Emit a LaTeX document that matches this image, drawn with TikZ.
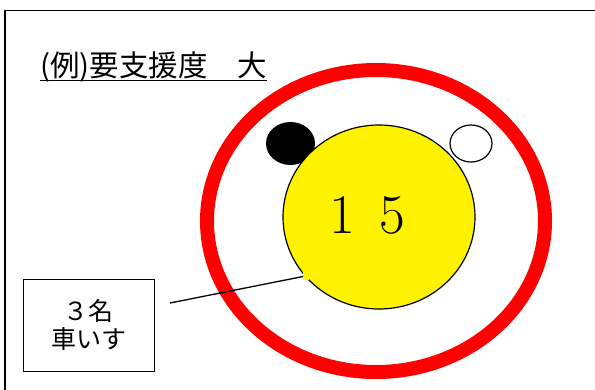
\documentclass[tikz,border=0pt]{standalone}
\usepackage{fontspec}
\newfontfamily\jpfont{Noto Sans CJK JP}
\begin{document}
\begin{tikzpicture}[x=1pt,y=-1pt,
  frameline/.style={line width=1.5pt,black},
  ringstyle/.style={draw=red,line width=14pt},
  smallmark/.style={line width=1.2pt},
  labelbox/.style={draw=black,line width=1pt,minimum width=131pt,minimum height=92pt,
     inner sep=0pt,align=center,font=\jpfont\fontsize{25}{28}\selectfont},
  titletext/.style={inner sep=0pt,anchor=base west,font=\jpfont\fontsize{29.5}{30}\selectfont},
  bignum/.style={inner sep=0pt,anchor=base west,font=\fontsize{56}{56}\selectfont},
  connector/.style={line width=1.3pt,black}]
\useasboundingbox (0,0) rectangle (595,389);
\fill[white] (0,0) rectangle (595,389);
% frame (left and top edges visible)
\coordinate (fbl) at (5,392);
\coordinate (ftl) at (5,10.5);
\coordinate (ftr) at (598,10.5);
\draw[frameline] (fbl) -- (ftl) -- (ftr);
% title
\node[titletext] (title) at (40,76) {(例)要支援度　大};
\draw[line width=1.5pt] ([yshift=-4.5pt]title.base west) -- ([yshift=-4.5pt]title.base east);
% red ring
\draw[ringstyle] (376,221) ellipse [x radius=169, y radius=151];
% black dot
\fill[black] (290.5,143.5) ellipse [x radius=24.5, y radius=21.5];
% yellow circle
\draw[smallmark,fill=yellow] (379,217) ellipse [x radius=96, y radius=92];
\node[bignum] (num) at (329,233) {1\hspace{25pt}5};
% white dot
\draw[smallmark,fill=white] (471,143.5) ellipse [x radius=21, y radius=18.5];
% label box and connector
\node[labelbox] (box) at (88.5,325) {３名\\車いす};
\coordinate (lstart) at (170,303);
\coordinate (lend) at (303,276.5);
\fill[yellow] (302.5,268) rectangle (309,280);
\draw[connector] (lstart) -- (lend);
\end{tikzpicture}
\end{document}
